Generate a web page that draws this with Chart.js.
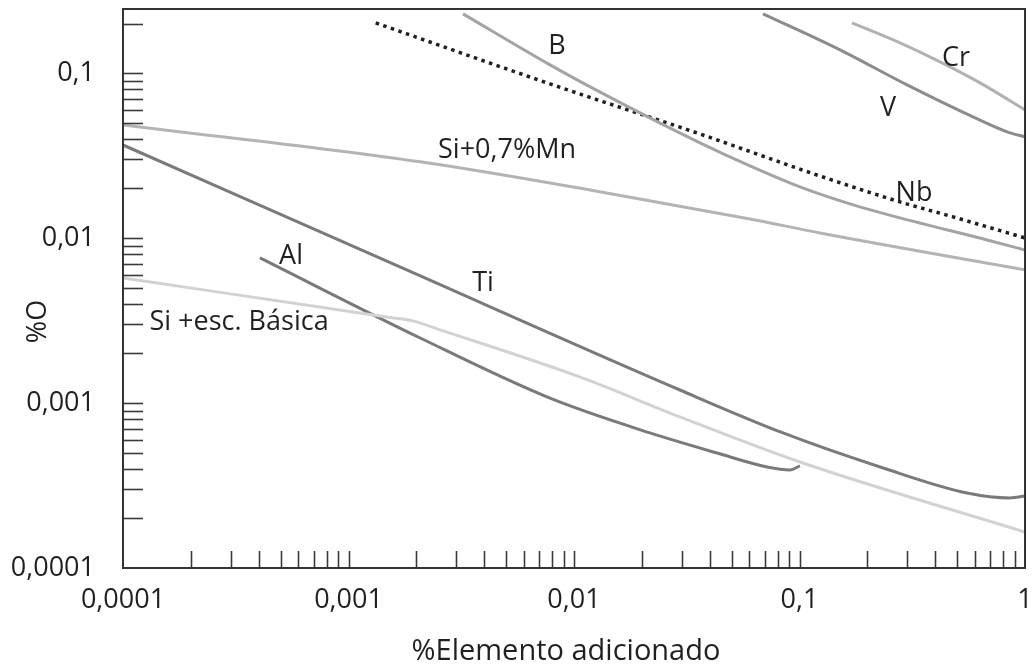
<!DOCTYPE html>
<html><head><meta charset="utf-8">
<script src="https://cdn.jsdelivr.net/npm/chart.js@4.4.1/dist/chart.umd.min.js"></script>
<style>html,body{margin:0;padding:0;background:#fff}#wrap{width:1032px;height:669px;position:relative}</style>
</head><body><div id="wrap"><canvas id="c" width="1032" height="669"></canvas></div>
<script>
// ---------- data ----------
const xTickLabels = ['0,0001', '0,001', '0,01', '0,1', '1'];
const xTickExps = [-4, -3, -2, -1, 0];
const yTickLabels = ['0,0001', '0,001', '0,01', '0,1'];
const yTickExps = [-4, -3, -2, -1];

const tiX = [0.0001, 0.00169, 0.0295, 0.0845, 0.235, 0.553, 0.858, 1];
const tiY = [0.0367, 0.00669, 0.00120, 0.000659, 0.000404, 0.000285, 0.000266, 0.000273];

const alX = [0.000405, 0.00208, 0.00783, 0.0217, 0.0431, 0.0718, 0.0908, 0.1005];
const alY = [0.00759, 0.00248, 0.00107, 0.000659, 0.000498, 0.000410, 0.000393, 0.000416];

const siEscX = [0.0001, 0.00153, 0.00193, 0.00255, 0.0106, 0.0295, 0.1005, 1];
const siEscY = [0.00574, 0.00330, 0.00315, 0.00278, 0.00144, 0.000824, 0.000439, 0.000165];

const siMnX = [0.0001, 0.00208, 0.0130, 0.0603, 0.1233, 1];
const siMnY = [0.0486, 0.0290, 0.0191, 0.01307, 0.01075, 0.00642];

const bX = [0.00322, 0.00783, 0.0130, 0.0362, 0.0603, 0.1005, 0.1675, 0.279, 0.679, 1];
const bY = [0.2289, 0.1123, 0.0770, 0.0378, 0.0274, 0.02044, 0.01612, 0.01326, 0.00975, 0.00848];

const nbX = [0.00132, 0.00783, 0.0362, 0.1233, 0.279, 0.480, 1];
const nbY = [0.2018, 0.0861, 0.0428, 0.0238, 0.01658, 0.01345, 0.01003];

const vX = [0.0689, 0.1512, 0.300, 0.588, 0.832, 1];
const vY = [0.2289, 0.1384, 0.0849, 0.0543, 0.0441, 0.0411];

const crX = [0.1709, 0.279, 0.420, 0.632, 1];
const crY = [0.2018, 0.1527, 0.1171, 0.0873, 0.0599];

const labelTexts = ['B', 'Cr', 'V', 'Nb', 'Si+0,7%Mn', 'Al', 'Ti', 'Si +esc. Básica'];
const labelX = [0.00841, 0.494, 0.247, 0.322, 0.00505, 0.000556, 0.00395, 0.000327];
const labelY = [0.1464, 0.1238, 0.0616, 0.0188, 0.0343, 0.0078, 0.00535, 0.0031];

const xTitle = '%Elemento adicionado';
const yTitle = '%O';

// ---------- helpers ----------
const FONT = '"Open Sans", sans-serif';
const TEXT = '#231f20';
const FS = 27;
const TITLE_FS = 29;

function pts(xs, ys) { return xs.map((x, i) => ({ x: x, y: ys[i] })); }

function buildLogTicks(scale) {
  const out = [];
  const e0 = Math.floor(Math.log10(scale.min) + 1e-9);
  const e1 = Math.ceil(Math.log10(scale.max));
  for (let e = e0; e <= e1; e++) {
    for (let k = 1; k <= 9; k++) {
      const v = parseFloat((k * Math.pow(10, e)).toPrecision(6));
      if (v >= scale.min * 0.9999 && v <= scale.max * 1.0001) out.push({ value: v });
    }
  }
  scale.ticks = out;
}

function decadeLabel(v, exps, labels) {
  const e = Math.log10(v);
  const r = Math.round(e);
  if (Math.abs(e - r) < 1e-6) {
    const i = exps.indexOf(r);
    return i >= 0 ? labels[i] : '';
  }
  return '';
}

function zeroPad(s) { s.paddingTop = 0; s.paddingBottom = 0; s.paddingLeft = 0; s.paddingRight = 0; }

function ds(label, xs, ys, color, extra) {
  return Object.assign({
    label: label,
    data: pts(xs, ys),
    borderColor: color,
    borderWidth: 3,
    pointRadius: 0,
    showLine: true,
    fill: false,
    cubicInterpolationMode: 'monotone',
    borderCapStyle: 'butt'
  }, extra || {});
}

const framePlugin = {
  id: 'frameTicks',
  afterDatasetsDraw(chart) {
    const ctx = chart.ctx;
    const a = chart.chartArea;
    const xs = chart.scales.x, ys = chart.scales.y;
    ctx.save();
    ctx.strokeStyle = '#3a3a3a';
    ctx.lineWidth = 1.6;
    xs.ticks.forEach(t => {
      const px = Math.round(xs.getPixelForValue(t.value)) + 0.5;
      if (px <= a.left + 1 || px >= a.right - 1) return;
      ctx.beginPath(); ctx.moveTo(px, a.bottom); ctx.lineTo(px, a.bottom - 17); ctx.stroke();
    });
    ys.ticks.forEach(t => {
      const py = Math.round(ys.getPixelForValue(t.value)) + 0.5;
      if (py >= a.bottom - 1 || py <= a.top + 1) return;
      ctx.beginPath(); ctx.moveTo(a.left, py); ctx.lineTo(a.left + 20, py); ctx.stroke();
    });
    ctx.lineWidth = 2;
    ctx.strokeStyle = '#333';
    ctx.strokeRect(a.left, a.top, a.right - a.left, a.bottom - a.top);
    ctx.fillStyle = TEXT;
    ctx.font = FS + 'px ' + FONT;
    ctx.textAlign = 'center';
    ctx.textBaseline = 'middle';
    labelTexts.forEach((s, i) => {
      ctx.fillText(s, xs.getPixelForValue(labelX[i]), ys.getPixelForValue(labelY[i]));
    });
    ctx.font = TITLE_FS + 'px ' + FONT;
    ctx.fillText(xTitle, (a.left + a.right) / 2 - 8, a.bottom + 84);
    ctx.font = FS + 'px ' + FONT;
    ctx.save();
    ctx.translate(38, (a.top + a.bottom) / 2 + 33);
    ctx.rotate(-Math.PI / 2);
    ctx.fillText(yTitle, 0, 0);
    ctx.restore();
    ctx.restore();
  }
};

new Chart(document.getElementById('c'), {
  type: 'scatter',
  data: {
    datasets: [
      ds('Si +esc. Básica', siEscX, siEscY, '#d2d2d2'),
      ds('Si+0,7%Mn', siMnX, siMnY, '#b4b4b4'),
      ds('Cr', crX, crY, '#b2b2b2'),
      ds('B', bX, bY, '#a4a4a4'),
      ds('V', vX, vY, '#8c8c8c'),
      ds('Al', alX, alY, '#7a7a7a'),
      ds('Ti', tiX, tiY, '#7a7a7a'),
      ds('Nb', nbX, nbY, '#231f20', { borderDash: [3.5, 4.5], borderWidth: 3.5 })
    ]
  },
  options: {
    responsive: false,
    animation: false,
    devicePixelRatio: 1,
    layout: { padding: { top: 9, right: 7, left: 0, bottom: 0 } },
    plugins: { legend: { display: false }, tooltip: { enabled: false } },
    scales: {
      x: {
        type: 'logarithmic',
        min: 0.0001, max: 1,
        afterBuildTicks: buildLogTicks,
        afterFit: s => { s.height = 101; zeroPad(s); },
        grid: { display: false, drawTicks: false },
        border: { display: false },
        ticks: {
          autoSkip: false, maxRotation: 0, minRotation: 0, padding: 16,
          color: TEXT, font: { family: FONT, size: FS },
          callback: v => decadeLabel(v, xTickExps, xTickLabels)
        }
      },
      y: {
        type: 'logarithmic',
        min: 0.0001, max: 0.245,
        afterBuildTicks: buildLogTicks,
        afterFit: s => { s.width = 123; zeroPad(s); },
        grid: { display: false, drawTicks: false },
        border: { display: false },
        ticks: {
          autoSkip: false, padding: 28,
          color: TEXT, font: { family: FONT, size: FS },
          callback: v => decadeLabel(v, yTickExps, yTickLabels)
        }
      }
    }
  },
  plugins: [framePlugin]
});
</script></body></html>
